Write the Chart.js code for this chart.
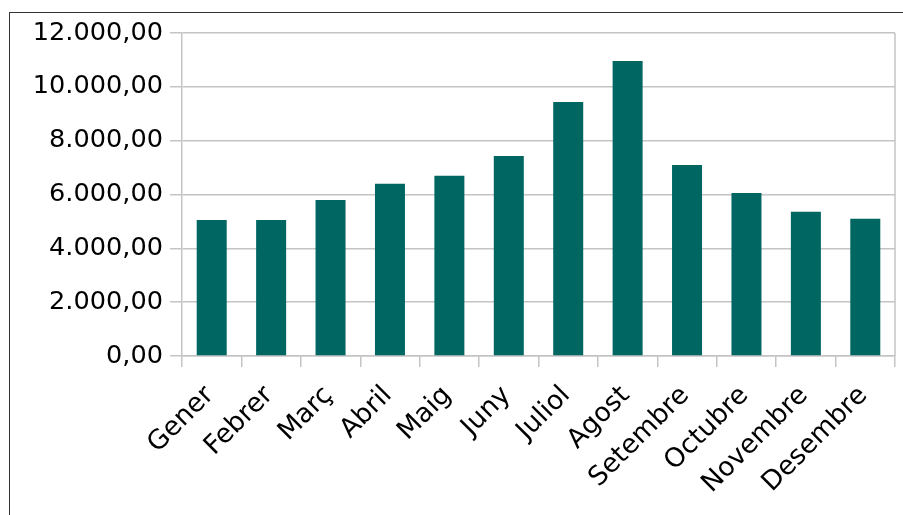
<!DOCTYPE html>
<html>
<head>
<meta charset="utf-8">
<script src="https://cdn.jsdelivr.net/npm/chart.js@4.4.1/dist/chart.umd.min.js"></script>
<style>
  html, body { margin: 0; padding: 0; background: #fff; overflow: hidden; }
  #frame { position: absolute; left: 9px; top: 12px; width: 1000px; height: 600px; border: 1.5px solid #333; box-sizing: border-box; }
  #wrap { position: absolute; left: 0; top: 0; width: 903px; height: 515px; }
</style>
</head>
<body>
<div id="frame"></div>
<div id="wrap"><canvas id="c" width="903" height="515"></canvas></div>
<script>
const categories = ["Gener", "Febrer", "Març", "Abril", "Maig", "Juny", "Juliol", "Agost", "Setembre", "Octubre", "Novembre", "Desembre"];
const values = [5050, 5050, 5800, 6400, 6700, 7430, 9440, 10960, 7100, 6060, 5360, 5100];
const yMin = 0, yMax = 12000, yStep = 2000;

function fmtCa(v) {
  const s = Math.round(v).toString().replace(/\B(?=(\d{3})+(?!\d))/g, ".");
  return s + ",00";
}

const GRID = "#c4c4c4";
const FONT_Y = { family: "'DejaVu Sans', Verdana, sans-serif", size: 25.6 };
const FONT_X = { family: "'DejaVu Sans', Verdana, sans-serif", size: 26.5 };

const rightBorder = {
  id: "rightBorder",
  afterDraw(chart) {
    const ctx = chart.ctx, a = chart.chartArea;
    ctx.save();
    ctx.strokeStyle = GRID;
    ctx.lineWidth = 1.5;
    ctx.beginPath();
    ctx.moveTo(a.right, a.top);
    ctx.lineTo(a.right, a.bottom);
    ctx.stroke();
    ctx.restore();
  }
};

new Chart(document.getElementById("c"), {
  type: "bar",
  data: {
    labels: categories,
    datasets: [{
      data: values,
      backgroundColor: "#006661",
      borderWidth: 0,
      barPercentage: 0.505,
      categoryPercentage: 1.0
    }]
  },
  options: {
    responsive: false,
    animation: false,
    devicePixelRatio: 1,
    layout: { padding: { left: 0, top: 33, right: 8, bottom: 0 } },
    plugins: { legend: { display: false }, tooltip: { enabled: false } },
    scales: {
      x: {
        offset: true,
        grid: { offset: true, drawOnChartArea: false, drawTicks: true, tickLength: 11, color: GRID, lineWidth: 1.5 },
        border: { display: true, color: GRID, width: 1.5 },
        ticks: { color: "#000", font: FONT_X, minRotation: 45, maxRotation: 45, autoSkip: false, padding: 13, labelOffset: -2 },
        afterFit(scale) { scale.height = 515 - 356; }
      },
      y: {
        min: yMin, max: yMax,
        grid: { color: GRID, lineWidth: 1.5, tickLength: 12, drawTicks: true },
        border: { display: true, color: GRID, width: 1.5 },
        ticks: { stepSize: yStep, color: "#000", font: FONT_Y, padding: 7, callback: (v) => fmtCa(v) },
        afterFit(scale) { scale.width = 182; }
      }
    }
  },
  plugins: [rightBorder]
});
</script>
</body>
</html>
